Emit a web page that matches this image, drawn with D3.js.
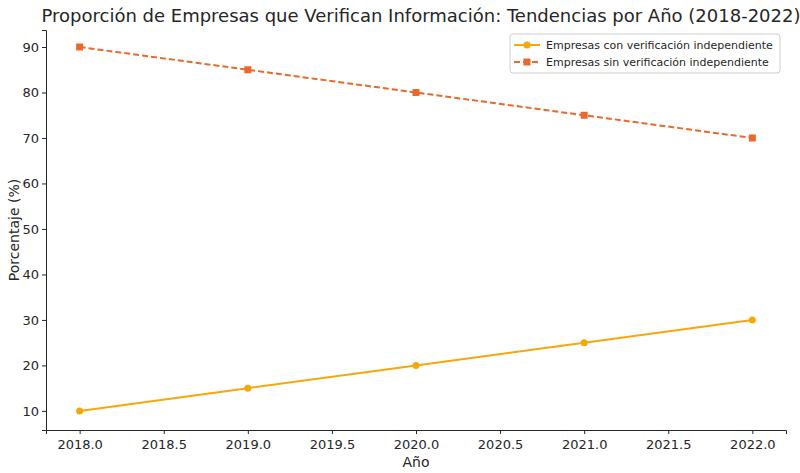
<!DOCTYPE html>
<html><head><meta charset="utf-8">
<script src="https://cdn.jsdelivr.net/npm/d3@7"></script>
<style>body{margin:0;background:#fff}text{font-family:"DejaVu Sans",sans-serif;fill:#262626}</style>
</head><body><svg id="c" width="800" height="473"></svg>
<script>
const years=[2018,2019,2020,2021,2022];
const conVerif=[10,15,20,25,30];
const sinVerif=[90,85,80,75,70];
const xTicks=[2018,2018.5,2019,2019.5,2020,2020.5,2021,2021.5,2022];
const yTicks=[10,20,30,40,50,60,70,80,90];
const svg=d3.select("#c");
const L=46,R=786,T=30,B=430;
const x=d3.scaleLinear().domain([2017.8,2022.2]).range([L,R]);
const y=d3.scaleLinear().domain([5.8,93.74]).range([B,T]);
const xa=svg.append("g").attr("transform",`translate(0,${B})`).call(d3.axisBottom(x).tickValues(xTicks).tickFormat(d3.format(".1f")).tickSizeOuter(0).tickSize(4));
const ya=svg.append("g").attr("transform",`translate(${L},0)`).call(d3.axisLeft(y).tickValues(yTicks).tickSizeOuter(0).tickSize(4));
[xa,ya].forEach(a=>{a.selectAll("text").style("font-size","13px").attr("fill","#262626");a.selectAll("path,line").attr("stroke","#262626");});
xa.selectAll("text").attr("dy","0.9em");
svg.append("text").attr("x",(L+R)/2+5).attr("y",22).attr("text-anchor","middle").style("font-size","18px").text("Proporción de Empresas que Verifican Información: Tendencias por Año (2018-2022)");
svg.append("text").attr("x",(L+R)/2).attr("y",467).attr("text-anchor","middle").style("font-size","14px").text("Año");
svg.append("text").attr("transform",`translate(19,${(T+B)/2}) rotate(-90)`).attr("text-anchor","middle").style("font-size","14px").text("Porcentaje (%)");
const c1="#f5a80c",c2="#e8692a";
const line=d3.line().x((d,i)=>x(years[i])).y(d=>y(d));
svg.append("path").datum(conVerif).attr("d",line).attr("fill","none").attr("stroke",c1).attr("stroke-width",2);
svg.selectAll(".p1").data(conVerif).join("circle").attr("cx",(d,i)=>x(years[i])).attr("cy",d=>y(d)).attr("r",3.5).attr("fill",c1);
svg.append("path").datum(sinVerif).attr("d",line).attr("fill","none").attr("stroke",c2).attr("stroke-width",2).attr("stroke-dasharray","6,3");
svg.selectAll(".p2").data(sinVerif).join("rect").attr("x",(d,i)=>x(years[i])-3.5).attr("y",d=>y(d)-3.5).attr("width",7).attr("height",7).attr("fill",c2);
const lg=svg.append("g");
lg.append("rect").attr("x",510).attr("y",34).attr("width",270).attr("height",39).attr("rx",3).attr("fill","#fff").attr("stroke","#ccc");
[[c1,"Empresas con verificación independiente",null,"c"],[c2,"Empresas sin verificación independiente","6,3","s"]].forEach((e,i)=>{
 const yy=45+i*17;
 lg.append("line").attr("x1",514).attr("x2",540).attr("y1",yy).attr("y2",yy).attr("stroke",e[0]).attr("stroke-width",2).attr("stroke-dasharray",e[2]);
 if(e[3]=="c")lg.append("circle").attr("cx",527).attr("cy",yy).attr("r",3.5).attr("fill",e[0]);
 else lg.append("rect").attr("x",523.5).attr("y",yy-3.5).attr("width",7).attr("height",7).attr("fill",e[0]);
 lg.append("text").attr("x",546).attr("y",yy+4).style("font-size","11px").text(e[1]);
});
</script></body></html>
